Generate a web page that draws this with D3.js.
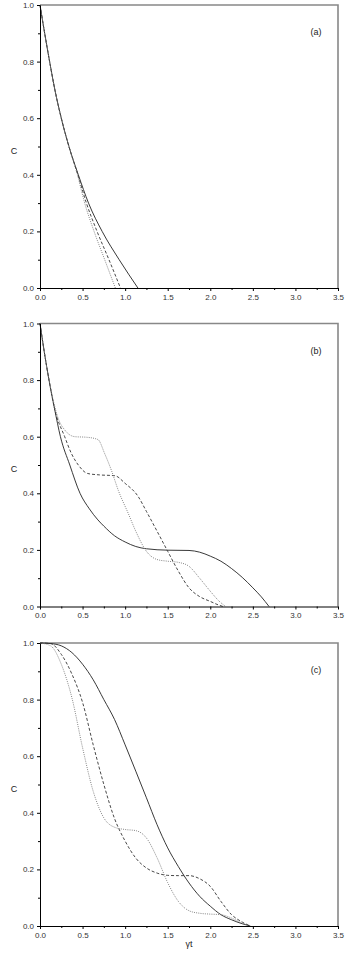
<!DOCTYPE html>
<html>
<head>
<meta charset="utf-8">
<script src="https://cdn.jsdelivr.net/npm/d3@7"></script>
<style>
  body { margin: 0; background: #fff; }
  svg { display: block; font-family: Arial, "Liberation Sans", sans-serif; }
</style>
</head>
<body>
<div id="plot"></div>
<script>
const FRAME_WIDTH = 346;
const FRAME_HEIGHT = 963;
const MARGINS = {left: 40, right: 8};
const PANEL_TOPS = [5, 323.5, 643];
const PANEL_HEIGHT = 283;

const X_TICKS = [0, 0.5, 1.0, 1.5, 2.0, 2.5, 3.0, 3.5];
const X_MINOR = [0.25, 0.75, 1.25, 1.75, 2.25, 2.75, 3.25];
const Y_TICKS = [0, 0.2, 0.4, 0.6, 0.8, 1.0];
const Y_MINOR = [0.1, 0.3, 0.5, 0.7, 0.9];
const PANEL_LABELS = ["(a)", "(b)", "(c)"];

// panel (a)
const aSolidT = [0, 0.055, 0.113, 0.175, 0.25, 0.34, 0.45, 0.57, 0.73, 0.93, 1.15];
const aSolidC = [1, 0.9, 0.8, 0.7, 0.6, 0.5, 0.4, 0.3, 0.2, 0.1, 0];
const aDashT = [0, 0.055, 0.113, 0.175, 0.25, 0.34, 0.445, 0.545, 0.67, 0.81, 0.945];
const aDashC = [1, 0.9, 0.8, 0.7, 0.6, 0.5, 0.4, 0.3, 0.2, 0.1, 0];
const aDotT = [0, 0.055, 0.113, 0.175, 0.25, 0.34, 0.44, 0.525, 0.635, 0.76, 0.885];
const aDotC = [1, 0.9, 0.8, 0.7, 0.6, 0.5, 0.4, 0.3, 0.2, 0.1, 0];

// panel (b)
const bSolidT = [0, 0.05, 0.106, 0.17, 0.24, 0.35, 0.47, 0.58, 0.68, 0.75, 0.875, 1.0, 1.125, 1.25, 1.5, 1.75, 1.875, 2.0, 2.125, 2.25, 2.375, 2.5, 2.6, 2.69];
const bSolidC = [1, 0.9, 0.8, 0.7, 0.6, 0.5, 0.4, 0.345, 0.306, 0.284, 0.25, 0.228, 0.212, 0.204, 0.199, 0.198, 0.192, 0.178, 0.16, 0.134, 0.103, 0.066, 0.034, 0];
const bDashT = [0, 0.05, 0.106, 0.17, 0.29, 0.37, 0.45, 0.56, 0.7, 0.88, 1.0, 1.15, 1.25, 1.375, 1.5, 1.625, 1.75, 1.875, 2.0, 2.1, 2.15];
const bDashC = [1, 0.9, 0.8, 0.7, 0.6, 0.54, 0.5, 0.47, 0.465, 0.462, 0.435, 0.39, 0.336, 0.266, 0.195, 0.125, 0.066, 0.035, 0.018, 0.005, 0];
const bDotT = [0, 0.05, 0.106, 0.17, 0.22, 0.29, 0.41, 0.55, 0.68, 0.76, 0.84, 0.92, 1.035, 1.125, 1.25, 1.375, 1.5, 1.625, 1.75, 1.875, 2.0, 2.1, 2.18];
const bDotC = [1, 0.9, 0.8, 0.71, 0.66, 0.624, 0.6, 0.598, 0.59, 0.54, 0.48, 0.41, 0.33, 0.266, 0.195, 0.166, 0.16, 0.156, 0.142, 0.1, 0.054, 0.02, 0];

// panel (c)
const cT = [0, 0.125, 0.25, 0.375, 0.5, 0.625, 0.75, 0.875, 1.0, 1.125, 1.25, 1.375, 1.5, 1.625, 1.75, 1.875, 2.0, 2.125, 2.25, 2.375, 2.47];
const cSolidC = [1, 0.998, 0.99, 0.966, 0.925, 0.87, 0.8, 0.73, 0.64, 0.547, 0.453, 0.358, 0.276, 0.21, 0.152, 0.105, 0.07, 0.04, 0.022, 0.008, 0];
const cDashC = [1, 0.998, 0.96, 0.89, 0.79, 0.64, 0.5, 0.38, 0.3, 0.24, 0.205, 0.187, 0.179, 0.178, 0.178, 0.167, 0.14, 0.087, 0.04, 0.014, 0];
const cDotC = [1, 0.99, 0.925, 0.806, 0.63, 0.476, 0.382, 0.349, 0.341, 0.337, 0.311, 0.241, 0.153, 0.087, 0.054, 0.045, 0.042, 0.04, 0.028, 0.01, 0];

const STYLES = {
  solid: {stroke: "#222", dash: null, width: 0.9},
  dash: {stroke: "#333", dash: "3,2", width: 0.9},
  dot: {stroke: "#777", dash: "1,1.2", width: 0.9}
};

const PANELS = [
  [["solid", aSolidT, aSolidC], ["dash", aDashT, aDashC], ["dot", aDotT, aDotC]],
  [["solid", bSolidT, bSolidC], ["dash", bDashT, bDashC], ["dot", bDotT, bDotC]],
  [["solid", cT, cSolidC], ["dash", cT, cDashC], ["dot", cT, cDotC]]
];

const VIS_WIDTH = FRAME_WIDTH - MARGINS.left - MARGINS.right;

const X_SCALE = d3.scaleLinear().domain([0, 3.5]).range([0, VIS_WIDTH]);
const Y_SCALE = d3.scaleLinear().domain([0, 1]).range([PANEL_HEIGHT, 0]);

const FRAME = d3.select("#plot")
  .append("svg")
    .attr("width", FRAME_WIDTH)
    .attr("height", FRAME_HEIGHT);

const line = d3.line()
  .x((d) => X_SCALE(d[0]))
  .y((d) => Y_SCALE(d[1]))
  .curve(d3.curveMonotoneX);

PANELS.forEach((series, i) => {
  const g = FRAME.append("g")
    .attr("transform", "translate(" + MARGINS.left + "," + PANEL_TOPS[i] + ")");

  // top and right frame
  g.append("path")
    .attr("d", "M0," + Y_SCALE(1) + "H" + X_SCALE(3.5) + "V" + Y_SCALE(0))
    .attr("fill", "none")
    .attr("stroke", "#888")
    .attr("stroke-width", 1.6);

  series.forEach((s) => {
    const st = STYLES[s[0]];
    const pts = s[1].map((t, k) => [t, s[2][k]]);
    g.append("path")
      .datum(pts)
      .attr("d", line)
      .attr("fill", "none")
      .attr("stroke", st.stroke)
      .attr("stroke-width", st.width)
      .attr("stroke-dasharray", st.dash);
  });

  // minor ticks
  g.append("g")
    .attr("transform", "translate(0," + PANEL_HEIGHT + ")")
    .call(d3.axisBottom(X_SCALE).tickValues(X_MINOR).tickSize(2).tickFormat(""))
    .call((a) => a.select(".domain").remove());
  g.append("g")
    .call(d3.axisLeft(Y_SCALE).tickValues(Y_MINOR).tickSize(2).tickFormat(""))
    .call((a) => a.select(".domain").remove());

  // major axes
  g.append("g")
    .attr("transform", "translate(0," + PANEL_HEIGHT + ")")
    .call(d3.axisBottom(X_SCALE).tickValues(X_TICKS).tickSize(3).tickSizeOuter(0).tickFormat(d3.format(".1f")))
    .attr("font-size", "8px")
    .attr("font-family", "Arial, 'Liberation Sans', sans-serif")
    .call((a) => a.selectAll("text").attr("fill", "#333"));
  g.append("g")
    .call(d3.axisLeft(Y_SCALE).tickValues(Y_TICKS).tickSize(3).tickSizeOuter(0).tickFormat(d3.format(".1f")))
    .attr("font-size", "8px")
    .attr("font-family", "Arial, 'Liberation Sans', sans-serif")
    .call((a) => a.selectAll("text").attr("fill", "#333"));

  g.append("text")
    .attr("x", -26)
    .attr("y", PANEL_HEIGHT / 2 + 7)
    .attr("text-anchor", "middle")
    .attr("font-size", "9px")
    .attr("fill", "#222")
    .text("C");

  g.append("text")
    .attr("x", 276)
    .attr("y", 30)
    .attr("text-anchor", "middle")
    .attr("font-size", "9px")
    .attr("fill", "#222")
    .text(PANEL_LABELS[i]);
});

FRAME.append("text")
  .attr("x", MARGINS.left + X_SCALE(1.75))
  .attr("y", 947)
  .attr("text-anchor", "middle")
  .attr("font-size", "9px")
  .attr("fill", "#222")
  .text("γt");
</script>
</body>
</html>
